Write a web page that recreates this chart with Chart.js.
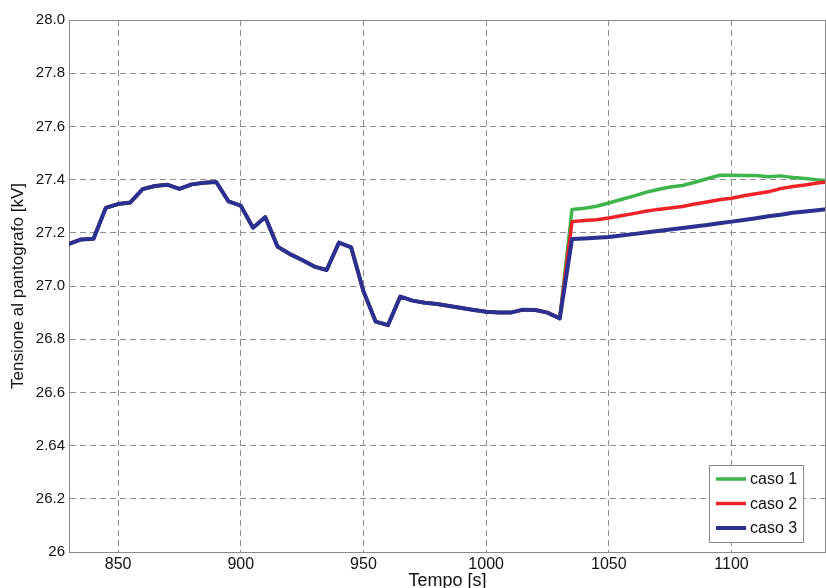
<!DOCTYPE html>
<html>
<head>
<meta charset="utf-8">
<script src="https://cdn.jsdelivr.net/npm/chart.js@4"></script>
<style>
  body { margin: 0; background: #fff; }
  canvas { display: block; }
</style>
</head>
<body>
<canvas id="canvas" width="826" height="588"></canvas>
<script>
const tempo = [
  830, 835, 840, 845, 850, 855, 860, 865, 870, 875, 880, 885, 890, 895, 900,
  905, 910, 915, 920, 925, 930, 935, 940, 945, 950, 955, 960, 965, 970, 975,
  980, 985, 990, 995, 1000, 1005, 1010, 1015, 1020, 1025, 1030,
  1035, 1040, 1045, 1050, 1055, 1060, 1065, 1070, 1075, 1080, 1085, 1090,
  1095, 1100, 1105, 1110, 1115, 1120, 1125, 1130, 1135, 1140
];

// common part (830..1030)
const comune = [
  27.158, 27.175, 27.178, 27.294, 27.308, 27.314, 27.364, 27.376, 27.381, 27.365,
  27.382, 27.388, 27.391, 27.318, 27.302, 27.219, 27.259, 27.148, 27.120, 27.098,
  27.073, 27.060, 27.163, 27.145, 26.980, 26.866, 26.853, 26.960, 26.945, 26.937,
  26.932, 26.925, 26.917, 26.910, 26.903, 26.900, 26.900, 26.911, 26.910, 26.900,
  26.878
];

const caso1Fine = [
  27.288, 27.292, 27.300, 27.312, 27.325, 27.338, 27.352, 27.363, 27.372, 27.378, 27.390,
  27.403, 27.416, 27.416, 27.415, 27.415, 27.411, 27.414, 27.408, 27.404, 27.399, 27.395
];
const caso2Fine = [
  27.242, 27.246, 27.249, 27.256, 27.264, 27.272, 27.281, 27.288, 27.293, 27.299, 27.308,
  27.316, 27.324, 27.330, 27.339, 27.347, 27.354, 27.366, 27.374, 27.380, 27.387, 27.393
];
const caso3Fine = [
  27.177, 27.179, 27.181, 27.184, 27.190, 27.195, 27.201, 27.207, 27.212, 27.218, 27.224,
  27.229, 27.236, 27.242, 27.248, 27.255, 27.262, 27.268, 27.275, 27.280, 27.285, 27.290
];

const caso1 = comune.concat(caso1Fine);
const caso2 = comune.concat(caso2Fine);
const caso3 = comune.concat(caso3Fine);

const xTicks = [850, 900, 950, 1000, 1050, 1100];
const yTicks = [26, 26.2, 26.4, 26.6, 26.8, 27.0, 27.2, 27.4, 27.6, 27.8, 28.0];
const yTickLabels = ['26', '26.2', '2.64', '26.6', '26.8', '27.0', '27.2', '27.4', '27.6', '27.8', '28.0'];

const colori = ['#3db54a', '#ee2328', '#2b3192'];
const FONT = '"Liberation Sans", Arial, sans-serif';

const toPoints = (serie) => serie.map((v, i) => ({ x: tempo[i], y: v }));

// box, axis titles and legend like the matlab figure
const extras = {
  id: 'extras',
  afterDraw(chart) {
    const { ctx, chartArea: a } = chart;
    ctx.save();
    ctx.strokeStyle = '#8a8a8a';
    ctx.lineWidth = 1;
    ctx.beginPath();
    ctx.moveTo(a.left, a.top + 0.5);
    ctx.lineTo(a.right, a.top + 0.5);
    ctx.moveTo(a.right - 0.5, a.top);
    ctx.lineTo(a.right - 0.5, a.bottom);
    ctx.stroke();

    ctx.fillStyle = '#111';
    ctx.font = '18px ' + FONT;
    ctx.textAlign = 'center';
    ctx.textBaseline = 'middle';
    ctx.fillText('Tempo [s]', (a.left + a.right) / 2, 581);

    ctx.translate(18, (a.top + a.bottom) / 2);
    ctx.rotate(-Math.PI / 2);
    ctx.font = '17px ' + FONT;
    ctx.fillText('Tensione al pantografo [kV]', 0, 0);
    ctx.restore();

    // legend
    ctx.save();
    const bx = 709.5, by = 465.5, bw = 94, bh = 77;
    ctx.fillStyle = '#fff';
    ctx.fillRect(bx, by, bw, bh);
    ctx.strokeStyle = '#8a8a8a';
    ctx.lineWidth = 1;
    ctx.strokeRect(bx, by, bw, bh);
    ctx.font = '16px ' + FONT;
    ctx.textAlign = 'left';
    ctx.textBaseline = 'middle';
    chart.data.datasets.forEach((ds, i) => {
      const yy = 479 + i * 24.5;
      ctx.strokeStyle = ds.borderColor;
      ctx.lineWidth = i === 2 ? 4 : 3.5;
      ctx.beginPath();
      ctx.moveTo(716, yy);
      ctx.lineTo(746, yy);
      ctx.stroke();
      ctx.fillStyle = '#111';
      ctx.fillText(ds.label, 750, yy + 1);
    });
    ctx.restore();
  }
};

new Chart(document.getElementById('canvas'), {
  type: 'line',
  data: {
    datasets: [
      { label: 'caso 1', data: toPoints(caso1), borderColor: colori[0], borderWidth: 3.5, order: 3 },
      { label: 'caso 2', data: toPoints(caso2), borderColor: colori[1], borderWidth: 3.5, order: 2 },
      { label: 'caso 3', data: toPoints(caso3), borderColor: colori[2], borderWidth: 4, order: 1 }
    ]
  },
  options: {
    responsive: false,
    animation: false,
    layout: { padding: { top: 20, right: 0, left: 0, bottom: 0 } },
    elements: {
      point: { radius: 0 },
      line: { tension: 0, borderJoinStyle: 'round', borderCapStyle: 'round' }
    },
    plugins: {
      legend: { display: false },
      tooltip: { enabled: false }
    },
    scales: {
      x: {
        type: 'linear',
        min: 830,
        max: 1138.5,
        afterBuildTicks: (scale) => { scale.ticks = xTicks.map((v) => ({ value: v })); },
        afterFit: (scale) => { scale.height = 36; },
        ticks: {
          color: '#111',
          font: { family: FONT, size: 16 },
          padding: 3,
          maxRotation: 0,
          callback: (v) => String(v)
        },
        grid: { color: '#8f8f8f', lineWidth: 1, drawTicks: false },
        border: { color: '#8a8a8a', width: 1, dash: [6, 4] }
      },
      y: {
        min: 26,
        max: 28,
        afterBuildTicks: (scale) => { scale.ticks = yTicks.map((v) => ({ value: v })); },
        afterFit: (scale) => { scale.width = 69; },
        ticks: {
          color: '#111',
          font: { family: FONT, size: 15 },
          padding: 4,
          callback: (v, i) => yTickLabels[i]
        },
        grid: { color: '#8f8f8f', lineWidth: 1, drawTicks: false },
        border: { color: '#8a8a8a', width: 1, dash: [6, 4] }
      }
    }
  },
  plugins: [extras]
});
</script>
</body>
</html>
